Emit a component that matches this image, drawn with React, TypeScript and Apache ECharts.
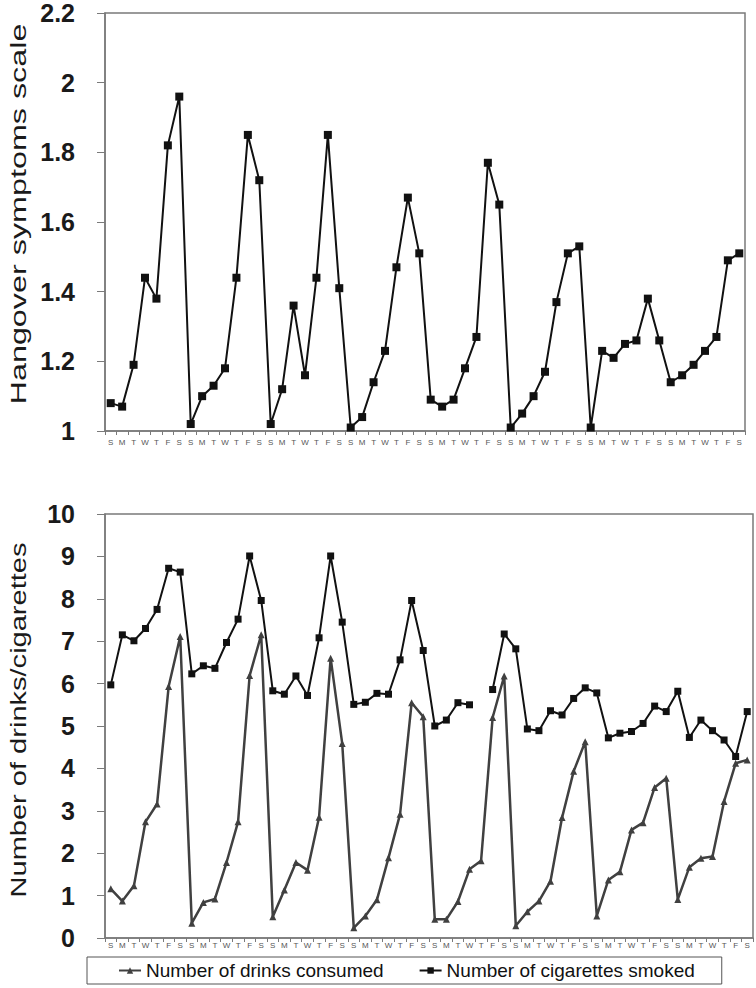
import React, { useEffect, useRef } from "react";
import * as echarts from "echarts";

const dayLabels = ["S", "M", "T", "W", "T", "F", "S"];
const weekCount = 8;

const hangover = [
  1.08, 1.07, 1.19, 1.44, 1.38, 1.82, 1.96,
  1.02, 1.10, 1.13, 1.18, 1.44, 1.85, 1.72,
  1.02, 1.12, 1.36, 1.16, 1.44, 1.85, 1.41,
  1.01, 1.04, 1.14, 1.23, 1.47, 1.67, 1.51,
  1.09, 1.07, 1.09, 1.18, 1.27, 1.77, 1.65,
  1.01, 1.05, 1.10, 1.17, 1.37, 1.51, 1.53,
  1.01, 1.23, 1.21, 1.25, 1.26, 1.38, 1.26,
  1.14, 1.16, 1.19, 1.23, 1.27, 1.49, 1.51,
];

const drinks = [
  1.16, 0.87, 1.23, 2.74, 3.16, 5.93, 7.11,
  0.35, 0.84, 0.92, 1.78, 2.74, 6.19, 7.15,
  0.50, 1.13, 1.78, 1.60, 2.85, 6.60, 4.59,
  0.24, 0.52, 0.90, 1.89, 2.92, 5.55, 5.22,
  0.44, 0.44, 0.86, 1.62, 1.82, 5.20, 6.18,
  0.29, 0.62, 0.87, 1.34, 2.84, 3.93, 4.63,
  0.52, 1.37, 1.56, 2.55, 2.72, 3.55, 3.77,
  0.91, 1.67, 1.88, 1.92, 3.22, 4.12, 4.20,
];

const cigarettes = [
  5.97, 7.15, 7.01, 7.30, 7.75, 8.72, 8.63,
  6.23, 6.42, 6.36, 6.97, 7.52, 9.01, 7.96,
  5.83, 5.75, 6.18, 5.72, 7.08, 9.01, 7.45,
  5.51, 5.56, 5.77, 5.75, 6.56, 7.96, 6.78,
  5.00, 5.14, 5.55, 5.50, null, 5.86, 7.17,
  6.82, 4.93, 4.89, 5.36, 5.26, 5.65, 5.90,
  5.78, 4.72, 4.83, 4.87, 5.06, 5.47, 5.34,
  5.82, 4.73, 5.14, 4.89, 4.67, 4.28, 5.34,
];

const topTitle = "Hangover symptoms scale";
const bottomTitle = "Number of drinks/cigarettes";
const drinksName = "Number of drinks consumed";
const cigName = "Number of cigarettes smoked";

const categories: string[] = [];
for (let w = 0; w < weekCount; w++) categories.push(...dayLabels);

const FONT = "'Liberation Sans', Arial, sans-serif";
const axisGrey = "#7a7a7a";

export default function App() {
  const ref = useRef<HTMLDivElement>(null);
  useEffect(() => {
    if (!ref.current) return;
    const chart = echarts.init(ref.current, undefined, { renderer: "svg" });
    const xAxisCommon = {
      type: "category" as const,
      data: categories,
      boundaryGap: true,
      axisLine: { lineStyle: { color: axisGrey, width: 1.5 } },
      axisTick: { show: true, length: 4, inside: false, lineStyle: { color: axisGrey } },
      splitLine: { show: false },
    };
    const yLabel = {
      fontSize: 25,
      lineHeight: 22,
      fontWeight: "bold" as const,
      fontFamily: FONT,
      color: "#1a1a1a",
      margin: 30,
    };
    chart.setOption({
      animation: false,
      backgroundColor: "#ffffff",
      grid: [
        { left: 105, top: 13, width: 640, height: 418, show: true, borderColor: axisGrey, borderWidth: 1.5 },
        { left: 105, top: 514, width: 648, height: 424, show: true, borderColor: axisGrey, borderWidth: 1.5 },
      ],
      xAxis: [
        {
          ...xAxisCommon,
          gridIndex: 0,
          axisLabel: { interval: 0, fontSize: 8, color: "#555", fontFamily: FONT, margin: 7 },
        },
        {
          ...xAxisCommon,
          gridIndex: 1,
          axisLabel: { interval: 0, fontSize: 8, color: "#555", fontFamily: FONT, margin: 3 },
        },
      ],
      yAxis: [
        {
          type: "value",
          gridIndex: 0,
          min: 1,
          max: 2.2,
          interval: 0.2,
          axisLine: { show: true, lineStyle: { color: axisGrey, width: 1.5 } },
          axisTick: { show: true, length: 8, lineStyle: { color: axisGrey } },
          splitLine: { show: false },
          axisLabel: { ...yLabel, formatter: (v: number) => String(+v.toFixed(1)) },
        },
        {
          type: "value",
          gridIndex: 1,
          min: 0,
          max: 10,
          interval: 1,
          axisLine: { show: true, lineStyle: { color: axisGrey, width: 1.5 } },
          axisTick: { show: true, length: 8, lineStyle: { color: axisGrey } },
          splitLine: { show: false },
          axisLabel: { ...yLabel },
        },
      ],
      legend: {
        data: [drinksName, cigName],
        left: 87,
        top: 957,
        itemWidth: 22,
        itemHeight: 8,
        itemGap: 35,
        padding: [4, 27, 4, 31],
        borderColor: "#555",
        borderWidth: 1,
        textStyle: { fontSize: 19, color: "#111", fontFamily: FONT },
      },
      graphic: [
        {
          type: "text",
          x: 18,
          y: 214,
          rotation: Math.PI / 2,
          scaleX: 1.47,
          style: {
            text: topTitle,
            fontSize: 22,
            fontFamily: FONT,
            fill: "#1a1a1a",
            textAlign: "center",
            textVerticalAlign: "middle",
          },
        },
        {
          type: "text",
          x: 18,
          y: 720,
          rotation: Math.PI / 2,
          scaleX: 1.32,
          style: {
            text: bottomTitle,
            fontSize: 22,
            fontFamily: FONT,
            fill: "#1a1a1a",
            textAlign: "center",
            textVerticalAlign: "middle",
          },
        },
      ],
      series: [
        {
          name: "Hangover symptoms",
          type: "line",
          xAxisIndex: 0,
          yAxisIndex: 0,
          data: hangover,
          symbol: "rect",
          symbolSize: 8,
          itemStyle: { color: "#111" },
          lineStyle: { color: "#111", width: 2 },
        },
        {
          name: drinksName,
          type: "line",
          xAxisIndex: 1,
          yAxisIndex: 1,
          data: drinks,
          symbol: "triangle",
          symbolSize: 7,
          itemStyle: { color: "#404040" },
          lineStyle: { color: "#404040", width: 2.5 },
        },
        {
          name: cigName,
          type: "line",
          xAxisIndex: 1,
          yAxisIndex: 1,
          data: cigarettes,
          symbol: "rect",
          symbolSize: 7,
          connectNulls: false,
          itemStyle: { color: "#111" },
          lineStyle: { color: "#111", width: 2 },
        },
      ],
    });
    return () => chart.dispose();
  }, []);
  return (
    <div
      ref={ref}
      style={{ position: "fixed", left: 0, top: 0, width: 756, height: 988, background: "#fff" }}
    />
  );
}
